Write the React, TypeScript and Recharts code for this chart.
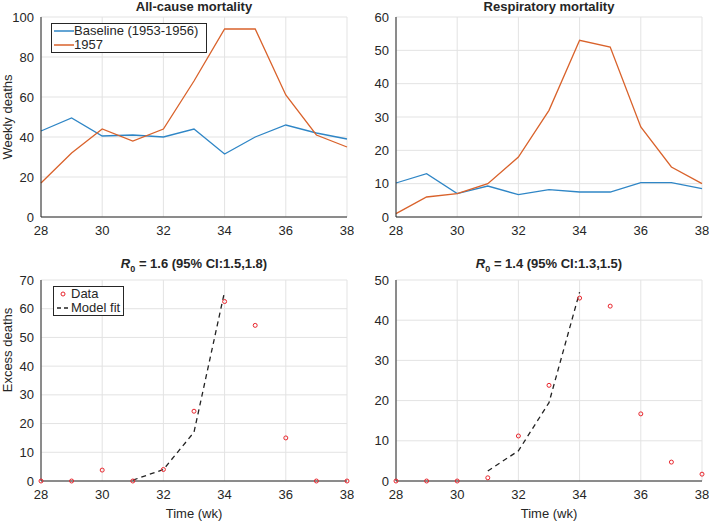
import React from 'react'
import { LineChart, Line, XAxis, YAxis, CartesianGrid, Legend } from 'recharts'

const weeks = [28, 29, 30, 31, 32, 33, 34, 35, 36, 37, 38]
const weekTicks = [28, 30, 32, 34, 36, 38]

// top row: weekly deaths
const allBaseline = [43, 49.5, 40.5, 41, 40, 44, 31.5, 40, 46, 42, 39]
const all1957 = [17, 32, 44, 38, 44, 68, 94, 94, 61, 41, 35]
const respBaseline = [10.2, 13, 7, 9.3, 6.7, 8.2, 7.5, 7.5, 10.3, 10.3, 8.5]
const resp1957 = [1, 6, 7, 10, 18, 32, 53, 51, 27, 15, 10]

// bottom row: excess deaths + model fit
const allExcess = [0, 0, 3.8, 0, 4, 24.3, 62.5, 54.2, 15, 0, 0]
const allFit = [null, null, null, 0.3, 4, 17, 66, null, null, null, null]
const respExcess = [0, 0, 0, 0.8, 11.2, 23.8, 45.5, 43.5, 16.7, 4.7, 1.7]
const respFit = [null, null, null, 2.5, 7.5, 19.5, 47, null, null, null, null]

const FONT = '"Liberation Sans", Arial, Helvetica, sans-serif'
const INK = '#262626'
const BLUE = '#2f86c6'
const ORANGE = '#d9622b'
const RED = '#e8252c'

const topRows = (base: number[], y57: number[]) =>
  weeks.map((w, i) => ({ week: w, baseline: base[i], y1957: y57[i] }))
const bottomRows = (ex: number[], fit: (number | null)[]) =>
  weeks.map((w, i) => ({ week: w, data: ex[i], fit: fit[i] }))

const tickStyle = { fontSize: 13, fill: INK, fontFamily: FONT }

const legendBox: React.CSSProperties = {
  border: `1px solid ${INK}`, background: '#fff', fontFamily: FONT, fontSize: 13, color: INK, lineHeight: '14px',
}

function TopLegend() {
  return (
    <div style={{ ...legendBox, padding: '0 8px 0 2px' }}>
      <div style={{ display: 'flex', alignItems: 'center' }}>
        <svg width={20} height={14}><line x1={0} y1={7} x2={20} y2={7} stroke={BLUE} strokeWidth={1.5} /></svg>
        <span>Baseline (1953-1956)</span>
      </div>
      <div style={{ display: 'flex', alignItems: 'center' }}>
        <svg width={20} height={14}><line x1={0} y1={7} x2={20} y2={7} stroke={ORANGE} strokeWidth={1.5} /></svg>
        <span>1957</span>
      </div>
    </div>
  )
}

function FitLegend() {
  return (
    <div style={{ ...legendBox, padding: '0 3px 0 2px' }}>
      <div style={{ display: 'flex', alignItems: 'center' }}>
        <svg width={15} height={14}><circle cx={7} cy={7} r={2} stroke={RED} fill="none" /></svg>
        <span>Data</span>
      </div>
      <div style={{ display: 'flex', alignItems: 'center' }}>
        <svg width={15} height={14}><line x1={1} y1={7} x2={13} y2={7} stroke="#222" strokeWidth={1.3} strokeDasharray="4 3" /></svg>
        <span>Model fit</span>
      </div>
    </div>
  )
}

// grid, bottom/left axes with labels, plus bare top/right axes to close the box
function axes(yMax: number, yTicks: number[]) {
  return [
    <CartesianGrid key="g" stroke="#e3e3e3" />,
    <XAxis key="x" dataKey="week" type="number" domain={[28, 38]} ticks={weekTicks} height={25}
      tick={tickStyle} tickLine={false} tickSize={5} tickMargin={4} axisLine={{ stroke: INK }} />,
    <XAxis key="xt" xAxisId="top" orientation="top" dataKey="week" type="number" domain={[28, 38]}
      height={0} tick={false} tickLine={false} axisLine={{ stroke: INK }} />,
    <YAxis key="y" type="number" domain={[0, yMax]} ticks={yTicks} width={34} interval={0}
      tick={tickStyle} tickLine={false} tickSize={4} tickMargin={3} axisLine={{ stroke: INK }} />,
    <YAxis key="yr" yAxisId="right" orientation="right" type="number" domain={[0, yMax]}
      width={0} tick={false} tickLine={false} axisLine={{ stroke: INK }} />,
  ]
}

const pos = (left: number, top: number): React.CSSProperties => ({ position: 'absolute', left, top })

const titleStyle: React.CSSProperties = {
  position: 'absolute', textAlign: 'center', fontFamily: FONT, fontSize: 13, fontWeight: 'bold', color: INK, lineHeight: '14px',
}
const labelStyle: React.CSSProperties = {
  position: 'absolute', textAlign: 'center', fontFamily: FONT, fontSize: 13, color: INK, lineHeight: '16px', whiteSpace: 'nowrap',
}

export default function App() {
  const topMargin = { top: 17, right: 7, bottom: 8, left: 7 }
  const topMarginR = { top: 17, right: 7, bottom: 8, left: 8 }
  const botMargin = { top: 25, right: 7, bottom: 16, left: 7 }
  const botMarginR = { top: 25, right: 7, bottom: 16, left: 8 }

  return (
    <div style={{ position: 'absolute', left: 0, top: 0, width: 709, height: 522, background: '#fff' }}>
      {/* All-cause weekly deaths */}
      <div style={pos(0, 0)}>
        <LineChart width={354} height={250} data={topRows(allBaseline, all1957)} margin={topMargin}>
          {axes(100, [0, 20, 40, 60, 80, 100])}
          <Legend layout="horizontal" verticalAlign="middle" align="center"
            wrapperStyle={{ left: 51, top: 23, width: 'auto', height: 'auto' }} content={() => <TopLegend />} />
          <Line dataKey="baseline" stroke={BLUE} strokeWidth={1.3} dot={false} isAnimationActive={false} />
          <Line dataKey="y1957" stroke={ORANGE} strokeWidth={1.3} dot={false} isAnimationActive={false} />
        </LineChart>
      </div>

      {/* Respiratory weekly deaths */}
      <div style={pos(354, 0)}>
        <LineChart width={355} height={250} data={topRows(respBaseline, resp1957)} margin={topMarginR}>
          {axes(60, [0, 10, 20, 30, 40, 50, 60])}
          <Line dataKey="baseline" stroke={BLUE} strokeWidth={1.3} dot={false} isAnimationActive={false} />
          <Line dataKey="y1957" stroke={ORANGE} strokeWidth={1.3} dot={false} isAnimationActive={false} />
        </LineChart>
      </div>

      {/* All-cause excess deaths */}
      <div style={pos(0, 255)}>
        <LineChart width={354} height={267} data={bottomRows(allExcess, allFit)} margin={botMargin}>
          {axes(70, [0, 10, 20, 30, 40, 50, 60, 70])}
          <Legend layout="horizontal" verticalAlign="middle" align="center"
            wrapperStyle={{ left: 53, top: 31, width: 'auto', height: 'auto' }} content={() => <FitLegend />} />
          <Line dataKey="fit" stroke="#222" strokeWidth={1.3} strokeDasharray="5 4" dot={false} connectNulls={false} isAnimationActive={false} />
          <Line dataKey="data" stroke="none" dot={{ r: 2, stroke: RED, strokeWidth: 1, fill: 'none' }} isAnimationActive={false} />
        </LineChart>
      </div>

      {/* Respiratory excess deaths */}
      <div style={pos(354, 255)}>
        <LineChart width={355} height={267} data={bottomRows(respExcess, respFit)} margin={botMarginR}>
          {axes(50, [0, 10, 20, 30, 40, 50])}
          <Line dataKey="fit" stroke="#222" strokeWidth={1.3} strokeDasharray="5 4" dot={false} connectNulls={false} isAnimationActive={false} />
          <Line dataKey="data" stroke="none" dot={{ r: 2, stroke: RED, strokeWidth: 1, fill: 'none' }} isAnimationActive={false} />
        </LineChart>
      </div>

      {/* titles */}
      <div style={{ ...titleStyle, left: 41, width: 306, top: 0 }}>All-cause mortality</div>
      <div style={{ ...titleStyle, left: 396, width: 306, top: 0 }}>Respiratory mortality</div>
      <div style={{ ...titleStyle, left: 41, width: 306, top: 257 }}>
        <i>R</i><sub style={{ fontSize: 9 }}>0</sub> = 1.6 (95% CI:1.5,1.8)
      </div>
      <div style={{ ...titleStyle, left: 396, width: 306, top: 257 }}>
        <i>R</i><sub style={{ fontSize: 9 }}>0</sub> = 1.4 (95% CI:1.3,1.5)
      </div>

      {/* axis labels */}
      <div style={{ ...labelStyle, left: 8 - 60, width: 120, top: 117 - 8, transform: 'rotate(-90deg)' }}>Weekly deaths</div>
      <div style={{ ...labelStyle, left: 8 - 60, width: 120, top: 350 - 8, transform: 'rotate(-90deg)' }}>Excess deaths</div>
      <div style={{ ...labelStyle, left: 41, width: 306, top: 506 }}>Time (wk)</div>
      <div style={{ ...labelStyle, left: 396, width: 306, top: 506 }}>Time (wk)</div>
    </div>
  )
}
